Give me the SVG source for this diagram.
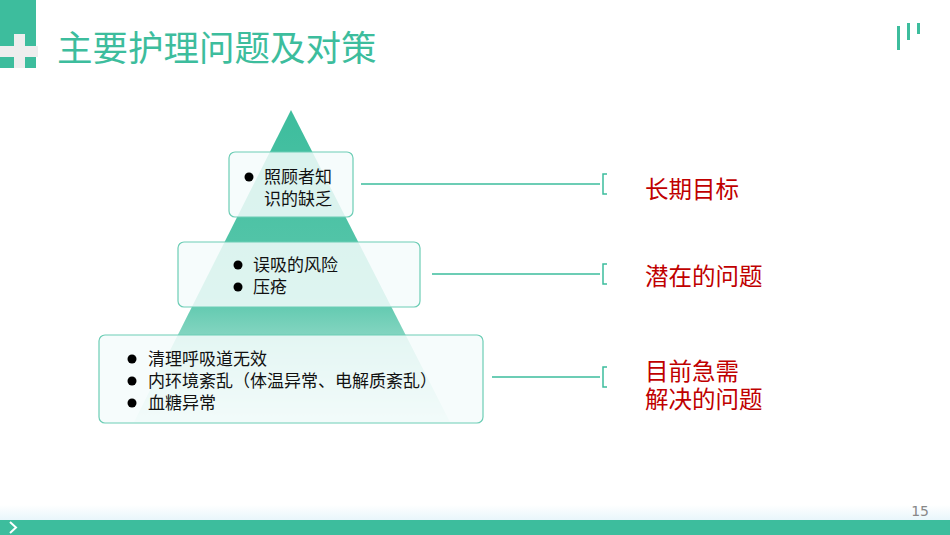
<svg xmlns="http://www.w3.org/2000/svg" width="950" height="535" viewBox="0 0 950 535">
<defs>
<linearGradient id="tri" x1="0" y1="0" x2="0" y2="1">
<stop offset="0" stop-color="#3dbd9d"/><stop offset="0.6" stop-color="#3dbd9d" stop-opacity="0.85"/><stop offset="1" stop-color="#3dbd9d" stop-opacity="0.15"/>
</linearGradient>
<linearGradient id="bar" x1="0" y1="0" x2="0" y2="1"><stop offset="0" stop-color="#e8f6fb" stop-opacity="0"/><stop offset="1" stop-color="#e8f6fb"/></linearGradient>
</defs>
<style>
.box{fill:#f4fbfb;fill-opacity:0.85;stroke:#6ccdb5;stroke-width:1.2}
.t{font-family:"Noto Sans CJK SC",sans-serif;font-size:17px;fill:#111}
.r{font-family:"Noto Sans CJK SC",sans-serif;font-size:23.5px;fill:#c00000}
.ln{stroke:#3dbd9d;stroke-width:1.5;fill:none}
</style>
<rect width="950" height="535" fill="#fff"/>
<g id="logo">
<rect x="0" y="0" width="36" height="68" fill="#3dbd9d"/>
<rect x="0" y="46" width="38" height="11" fill="#eeeeee"/>
<rect x="14" y="34" width="11" height="34" fill="#eeeeee"/>
<rect x="897" y="26" width="3" height="24" fill="#3dbd9d"/>
<rect x="907" y="23" width="3" height="17" fill="#3dbd9d"/>
<rect x="917" y="23" width="3" height="11" fill="#3dbd9d"/>
</g>
<text x="57" y="61" font-family="Noto Sans CJK SC,sans-serif" font-size="35.5" fill="#3dbd9d">主要护理问题及对策</text>
<polygon points="291,110 134,422 450,422" fill="url(#tri)"/>
<g id="connectors">
<path class="ln" d="M361 184H600M432 274H600M492 377H600"/>
<path class="ln" d="M607 174H603V194H607M607 264H603V284H607M607 367H603V387H607"/>
</g>
<g id="n1"><rect class="box" x="229" y="152" width="124" height="65" rx="6"/>
<circle cx="249" cy="177" r="4.5" fill="#000"/>
<text class="t" x="264" y="183">照顾者知</text><text class="t" x="264" y="205">识的缺乏</text></g>
<g id="n2"><rect class="box" x="178" y="242" width="242" height="65" rx="6"/>
<circle cx="238" cy="265" r="4.5" fill="#000"/><circle cx="238" cy="287" r="4.5" fill="#000"/>
<text class="t" x="253" y="271">误吸的风险</text><text class="t" x="253" y="293">压疮</text></g>
<g id="n3"><rect class="box" x="99" y="335" width="384" height="88" rx="6"/>
<circle cx="132" cy="359" r="4.5" fill="#000"/><circle cx="132" cy="381" r="4.5" fill="#000"/><circle cx="132" cy="403" r="4.5" fill="#000"/>
<text class="t" x="148" y="365">清理呼吸道无效</text><text class="t" x="148" y="387">内环境紊乱（体温异常、电解质紊乱）</text><text class="t" x="148" y="409">血糖异常</text></g>
<g id="labels">
<text class="r" x="645" y="198">长期目标</text>
<text class="r" x="645" y="285">潜在的问题</text>
<text class="r" x="645" y="380">目前急需</text>
<text class="r" x="645" y="408">解决的问题</text>
</g>
<rect x="0" y="505" width="950" height="15" fill="url(#bar)"/>
<rect x="0" y="520" width="950" height="15" fill="#3dbd9d"/>
<path d="M10 522L16 527.5L10 533" stroke="#fff" stroke-width="2" fill="none"/>
<text x="929" y="516" text-anchor="end" font-family="DejaVu Sans,sans-serif" font-size="14" fill="#888">15</text>
</svg>
